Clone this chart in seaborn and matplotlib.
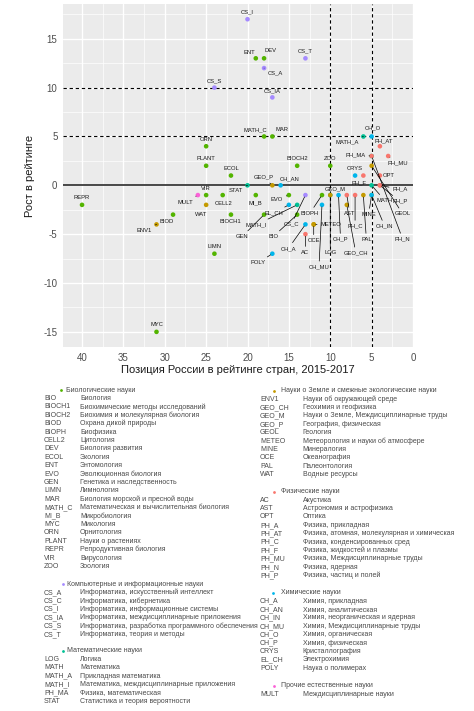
import numpy as np
import pandas as pd
import matplotlib
matplotlib.use("Agg")
import matplotlib.pyplot as plt
import seaborn as sns

sns.set_style("darkgrid", {"axes.facecolor": "#EBEBEB", "grid.color": "white"})
plt.rcParams["font.family"] = ["Liberation Sans", "DejaVu Sans"]

# ---- data: position of Russia in country ranking (x) and growth in ranking (y)
BIO = "Биологические науки"
COMP = "Компьютерные и информационные науки"
MATHS = "Математические науки"
EARTH = "Науки о Земле и смежные экологические науки"
PHYS = "Физические науки"
CHEM = "Химические науки"
OTHER = "Прочие естественные науки"

bio_codes = ["BIO", "BIOCH1", "BIOCH2", "BIOD", "BIOPH", "CELL2", "DEV", "ECOL", "ENT", "EVO", "GEN",
             "LIMN", "MAR", "MATH_C", "MI_B", "MYC", "ORN", "PLANT", "REPR", "VIR", "ZOO"]
bio_pos = [14, 22, 14, 29, 11, 23, 18, 22, 19, 15, 18, 24, 17, 18, 19, 31, 25, 25, 40, 25, 10]
bio_growth = [-3, -3, 2, -3, -1, -1, 13, 1, 13, -1, -3, -7, 5, 5, -1, -15, 4, 2, -2, -1, 2]
bio_names = ["Биология", "Биохимические методы исследований", "Биохимия и молекулярная биология",
             "Охрана дикой природы", "Биофизика", "Цитология", "Биология развития", "Экология",
             "Энтомология", "Эволюционная биология", "Генетика и наследственность", "Лимнология",
             "Биология морской и пресной воды", "Математическая и вычислительная биология",
             "Микробиология", "Микология", "Орнитология", "Науки о растениях",
             "Репродуктивная биология", "Вирусология", "Зоология"]

comp_codes = ["CS_A", "CS_C", "CS_I", "CS_IA", "CS_S", "CS_T"]
comp_pos = [18, 13, 20, 17, 24, 13]
comp_growth = [12, -1, 17, 9, 10, 13]
comp_names = ["Информатика, искусственный интеллект", "Информатика, кибернетика",
              "Информатика, информационные системы", "Информатика, междисциплинарные приложения",
              "Информатика, разработка программного обеспечения", "Информатика, теория и методы"]

math_codes = ["LOG", "MATH", "MATH_A", "MATH_I", "PH_MA", "STAT"]
math_pos = [10, 5, 6, 14, 5, 20]
math_growth = [-1, 0, 5, -2, 3, 0]
math_names = ["Логика", "Математика", "Прикладная математика", "Математика, междисциплинарные приложения",
              "Физика, математическая", "Статистика и теория вероятности"]

earth_codes = ["ENV1", "GEO_CH", "GEO_M", "GEO_P", "GEOL", "METEO", "MINE", "OCE", "PAL", "WAT"]
earth_pos = [31, 8, 10, 17, 5, 12, 5, 12, 6, 25]
earth_growth = [-4, -2, -1, 0, 2, -4, -1, -4, -1, -2]
earth_names = ["Науки об окружающей среде", "Геохимия и геофизика", "Науки о Земле, Междисциплинарные труды",
               "География, физическая", "Геология", "Метеорология и науки об атмосфере", "Минералогия",
               "Океанография", "Палеонтология", "Водные ресурсы"]

phys_codes = ["AC", "AST", "OPT", "PH_A", "PH_AT", "PH_C", "PH_F", "PH_MU", "PH_N", "PH_P"]
phys_pos = [13, 8, 4, 4, 4, 7, 6, 3, 5, 4]
phys_growth = [-5, -1, 1, 0, 4, -1, 1, 3, 3, 0]
phys_names = ["Акустика", "Астрономия и астрофизика", "Оптика", "Физика, прикладная",
              "Физика, атомная, молекулярная и химическая", "Физика, конденсированных сред",
              "Физика, жидкостей и плазмы", "Физика, Междисциплинарные труды", "Физика, ядерная",
              "Физика, частиц и полей"]

chem_codes = ["CH_A", "CH_AN", "CH_IN", "CH_MU", "CH_O", "CH_P", "CRYS", "EL_CH", "POLY"]
chem_pos = [13, 16, 5, 11, 5, 9, 7, 15, 17]
chem_growth = [-4, 0, -1, -2, 5, -1, 1, -2, -7]
chem_names = ["Химия, прикладная", "Химия, аналитическая", "Химия, неорганическая и ядерная",
              "Химия, Междисциплинарные труды", "Химия, органическая", "Химия, физическая",
              "Кристаллография", "Электрохимия", "Наука о полимерах"]

other_codes = ["MULT"]
other_pos = [26]
other_growth = [-1]
other_names = ["Междисциплинарные науки"]

palette = {PHYS: "#F8766D", EARTH: "#C49A00", BIO: "#53B400", MATHS: "#00C094",
           CHEM: "#00B6EB", COMP: "#A58AFF", OTHER: "#FB61D7"}

# drawing order (later groups on top)
draw_groups = [(BIO, bio_codes, bio_pos, bio_growth), (MATHS, math_codes, math_pos, math_growth),
               (EARTH, earth_codes, earth_pos, earth_growth), (CHEM, chem_codes, chem_pos, chem_growth),
               (COMP, comp_codes, comp_pos, comp_growth), (PHYS, phys_codes, phys_pos, phys_growth),
               (OTHER, other_codes, other_pos, other_growth)]
frames = [pd.DataFrame({"code": c, "pos": p, "growth": g, "group": name}) for name, c, p, g in draw_groups]
df = pd.concat(frames, ignore_index=True)

x_ticks = [40, 35, 30, 25, 20, 15, 10, 5, 0]
y_ticks = [-15, -10, -5, 0, 5, 10, 15]

# label offsets in pixels (label centre relative to point); default is just above
label_offsets = {
    "ENT": (-6, 6), "DEV": (6, 8), "CS_A": (11, -5), "MATH_C": (-9, 7), "MAR": (10, 7),
    "MATH_A": (-16, -5), "CH_O": (1, 9), "PH_AT": (4, 5), "PH_MA": (-16, 1), "PH_MU": (10, -7),
    "PH_F": (-4, -7), "OPT": (9, 0), "GEO_P": (-9, 8), "CH_AN": (9, 6), "STAT": (-12, -5),
    "MULT": (-12, -7), "CELL2": (1, -8), "MI_B": (0, -8), "EVO": (-12, -4), "WAT": (-5, -10),
    "BIOD": (-6, -7), "ENV1": (-12, -6), "BIOCH1": (-1, -7), "GEN": (-22, -22), "MATH_I": (-41, -20),
    "EL_CH": (-15, -8), "BIO": (-24, -22), "CS_C": (-14, -29), "BIOPH": (-12, -18), "CH_A": (-17, -24),
    "AC": (0, -18), "OCE": (0, -16), "METEO": (17, 0), "CH_MU": (-3, -62), "LOG": (0, -57),
    "GEO_M": (5, 6), "CH_P": (2, -44), "GEO_CH": (9, -48), "AST": (3, -18), "PH_C": (0, -31),
    "PAL": (3, -44), "MINE": (-3, -19), "MATH": (13, -15), "CH_IN": (13, -31), "PH_A": (20, -4),
    "PH_P": (20, -16), "GEOL": (31, -48), "PH_N": (31, -83), "POLY": (-14, -9),
}

W, H = 474, 711
fig = plt.figure(figsize=(W / 100, H / 100), dpi=100)
ax = fig.add_axes([63 / W, 1 - 347 / H, 350 / W, 343 / H])

ax.axhline(0, color="#3a3a3a", lw=1.3, zorder=2)
for yv in [10, 5]:
    ax.axhline(yv, color="black", lw=0.8, ls=(0, (3, 2.5)), zorder=2)
for xv in [10, 5]:
    ax.axvline(xv, color="black", lw=0.8, ls=(0, (3, 2.5)), zorder=2)

sns.scatterplot(data=df, x="pos", y="growth", hue="group", palette=palette, s=11,
                linewidth=0, legend=False, ax=ax, zorder=3)

for _, r in df.iterrows():
    dx, dy = label_offsets.get(r["code"], (0, 7))
    long = np.hypot(dx, dy) > 12
    ax.annotate(r["code"], (r["pos"], r["growth"]), xytext=(dx, dy), textcoords="offset pixels",
                ha="center", va="center", fontsize=4.2, color="#1a1a1a", zorder=4,
                arrowprops=dict(arrowstyle="-", color="black", lw=0.5, shrinkA=0, shrinkB=1.5)
                if long else None)

ax.set_xlim(42.3, 0)
ax.set_ylim(-16.55, 18.56)
ax.set_xticks(x_ticks)
ax.set_xticklabels([str(t) for t in x_ticks])
ax.set_yticks(y_ticks)
ax.set_yticklabels([str(t) for t in y_ticks])
ax.set_xticks([37.5, 32.5, 27.5, 22.5, 17.5, 12.5, 7.5, 2.5], minor=True)
ax.set_yticks([-12.5, -7.5, -2.5, 2.5, 7.5, 12.5, 17.5], minor=True)
ax.grid(which="major", color="white", lw=1.0)
ax.grid(which="minor", color="white", lw=0.5)
ax.tick_params(which="major", length=2.5, width=0.7, color="#333333", labelsize=7,
               labelcolor="#4D4D4D", pad=1.5)
ax.tick_params(which="minor", length=0)
for s in ax.spines.values():
    s.set_visible(False)
ax.set_xlabel("Позиция России в рейтинге стран, 2015-2017", fontsize=8, color="#1a1a1a", labelpad=2)
ax.set_ylabel("Рост в рейтинге", fontsize=8, color="#1a1a1a", labelpad=6)

# ---- legend table under the chart
leg = fig.add_axes([0, 0, 1, 1])
leg.set_xlim(0, W)
leg.set_ylim(H, 0)
leg.axis("off")
leg.patch.set_alpha(0)

step = 8.4
blocks = [
    (BIO, bio_codes, bio_names, 61, 66, 44, 80, 390.0),
    (COMP, comp_codes, comp_names, 62.7, 66.7, 44, 80, 584.0),
    (MATHS, math_codes, math_names, 62.7, 66.7, 44, 80, 650.8),
    (EARTH, earth_codes, earth_names, 274.3, 281.5, 260, 302.7, 390.7),
    (PHYS, phys_codes, phys_names, 274.3, 281.5, 260, 302.7, 491.7),
    (CHEM, chem_codes, chem_names, 273.3, 281.0, 260, 302.7, 592.7),
    (OTHER, other_codes, other_names, 274.3, 281.5, 260, 302.7, 685.7),
]
txt_kw = dict(fontsize=5.0, color="#4a4a4a", va="center", ha="left")
for name, codes, names, xb, xh, xc, xd, yh in blocks:
    leg.scatter([xb], [yh], s=4, color=palette[name], linewidth=0)
    leg.text(xh, yh, name, **txt_kw)
    for i, (c, d) in enumerate(zip(codes, names)):
        yy = yh + step * (i + 1)
        leg.text(xc, yy, c, **txt_kw)
        leg.text(xd, yy, d, **txt_kw)

fig.savefig("out.png", dpi=100)
